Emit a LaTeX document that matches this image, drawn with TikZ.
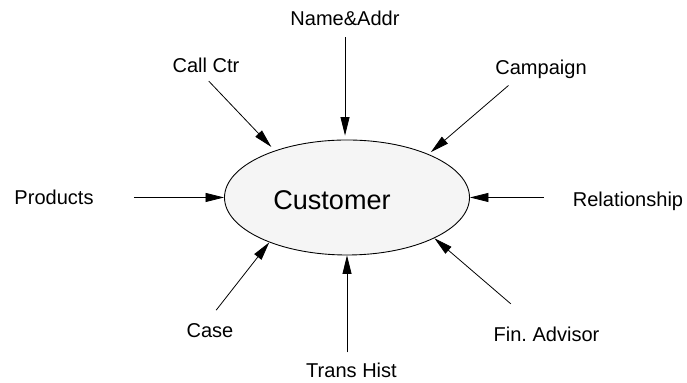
\documentclass[tikz,border=0pt]{standalone}
\usepackage{fontspec}
\setmainfont{Liberation Sans}
\usetikzlibrary{arrows.meta,shapes.geometric}

\begin{document}
\begin{tikzpicture}[every node/.style={font=\fontsize{11.4}{13}\selectfont, inner sep=0.1cm},
  feed/.style={-{Triangle[length=0.37cm,width=0.18cm]}, line width=0.45pt}]

\useasboundingbox (0,0) rectangle (13.74,7.66);

% the entity in the middle
\node[draw, ellipse, fill=black!4, line width=0.5pt, minimum width=4.9cm, minimum height=2.3cm] (cust) at (6.94,3.71) {};
\node[font=\fontsize{15.4}{18}\selectfont] (custname) at (6.64,3.65) {Customer};

% sources around it
\node (name) at (6.90,7.29) {Name\&Addr};
\node (callctr) at (4.12,6.35) {Call Ctr};
\node (campaign) at (10.82,6.27) {Campaign};
\node (products) at (1.08,3.71) {Products};
\node (relation) at (12.56,3.63) {Relationship};
\node (case) at (4.20,1.05) {Case};
\node (trans) at (7.03,0.26) {Trans Hist};
\node (finadv) at (10.93,0.97) {Fin.\ Advisor};

% feeds into the customer
\draw[feed, shorten <=0.12cm, shorten >=0.08cm] (name.south) -- (name.south |- cust.north);
\draw[feed, shorten <=0.08cm, shorten >=0.1cm] (callctr.south) -- (cust.147);
\draw[feed, shorten <=0.04cm, shorten >=0.06cm] ([xshift=-0.62cm]campaign.south) -- (cust.28);
\draw[feed, shorten <=0.7cm] (products) -- (cust.west);
\draw[feed, shorten <=0.48cm] (relation.west |- cust.east) -- (cust.east);
\draw[feed, shorten <=0.2cm] (case.north) -- (cust.210);
\draw[feed, shorten <=0.1cm] (trans.north -| cust.south) -- (cust.south);
\draw[feed, shorten <=0.55cm] (finadv) -- (cust.-25);

\end{tikzpicture}
\end{document}
